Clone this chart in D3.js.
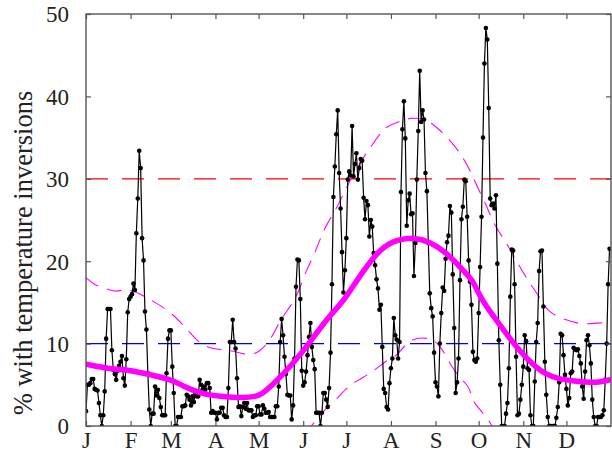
<!DOCTYPE html>
<html>
<head>
<meta charset="utf-8">
<script src="https://cdn.jsdelivr.net/npm/d3@7"></script>
<style>
	html, body { margin: 0; padding: 0; background: #fff; }
</style>
</head>
<body>
<div id="chart"></div>
<script>
document.addEventListener("DOMContentLoaded", init, false);

// month labels sit on the first day of each month
var monthLabels = ['J', 'F', 'M', 'A', 'M', 'J', 'J', 'A', 'S', 'O', 'N', 'D'];
var monthStartDays = [0, 31, 59, 90, 120, 151, 181, 212, 243, 273, 304, 334];
var yTicks = [0, 10, 20, 30, 40, 50];

// daily % of soundings with an inversion (day 0 = 1 Jan)
var dailyInversions = [
	1.8, 5.0, 5.0, 5.2, 5.7, 5.7, 4.5, 4.4, 4.3, 2.8,
	1.3, 0, 1.3, 4.2, 10.6, 14.2, 14.2, 14.2, 9.2, 6.8,
	6.3, 5.6, 6.7, 7.3, 7.8, 8.5, 5.8, 4.9, 8.1, 13.8,
	15.4, 15.7, 16.0, 17.3, 16.5, 23.4, 27.6, 33.4, 31.3, 22.8,
	20.1, 13.9, 11.7, 6.4, 2.0, 0, 1.5, 1.5, 4.8, 3.7,
	4.4, 3.4, 2.3, 1.3, 1.3, 1.3, 6.4, 10.6, 11.6, 11.6,
	7.2, 4.0, 0, 0, 1.1, 1.1, 1.1, 2.4, 2.4, 2.5,
	3.8, 3.6, 3.2, 2.5, 3.6, 2.9, 4.0, 3.6, 3.6, 5.6,
	5.0, 4.4, 4.8, 4.4, 5.2, 5.2, 4.6, 1.6, 1.8, 1.6,
	1.6, 0.8, 1.6, 1.6, 2.2, 2.2, 1.3, 1.1, 1.1, 4.6,
	10.2, 10.2, 12.9, 10.2, 9.4, 5.8, 2.3, 2.4, 1.2, 2.3,
	2.8, 2.1, 2.8, 1.9, 1.9, 1.9, 1.1, 1.3, 1.3, 2.4,
	2.4, 1.4, 1.4, 2.5, 2.1, 1.6, 1.6, 1.7, 1.1, 1.1,
	1.1, 1.1, 2.4, 2.4, 4.8, 10.2, 13.0, 11.0, 8.4, 6.3,
	3.8, 3.7, 3.7, 0.8, 2.5, 8.2, 16.9, 20.2, 20.1, 15.4,
	6.7, 4.9, 5.3, 6.6, 8.6, 10.8, 12.5, 9.6, 8.0, 6.9,
	1.6, 1.6, 1.6, 0, 1.6, 4.0, 4.0, 3.2, 2.3, 4.6,
	8.9, 17.2, 27.8, 31.5, 35.4, 38.3, 30.7, 26.4, 21.1, 16.2,
	18.9, 22.8, 29.9, 30.9, 30.4, 36.4, 30.3, 31.8, 33.1, 29.9,
	31.3, 32.4, 32.2, 27.7, 25.1, 27.3, 26.8, 23.0, 25.0, 24.2,
	21.0, 19.5, 17.8, 16.7, 14.1, 14.7, 9.6, 4.5, 4.0, 2.3,
	2.0, 5.2, 7.0, 8.2, 13.1, 11.0, 10.5, 8.2, 10.2, 28.4,
	36.0, 39.4, 34.9, 24.3, 27.4, 28.2, 25.7, 25.8, 18.2, 22.2,
	29.9, 35.8, 43.1, 36.9, 38.3, 37.2, 30.7, 28.5, 22.2, 16.1,
	14.3, 13.3, 8.9, 5.3, 4.8, 3.6, 10.0, 13.7, 16.8, 16.4,
	20.3, 22.3, 23.1, 26.7, 25.9, 18.4, 11.9, 4.0, 5.3, 8.2,
	17.7, 25.1, 26.6, 29.9, 29.7, 25.4, 20.1, 17.5, 14.7, 9.0,
	8.0, 7.8, 8.2, 13.7, 19.3, 25.4, 35.0, 44.0, 48.3, 46.9,
	38.6, 27.6, 26.8, 27.0, 26.4, 28.0, 19.7, 10.4, 5.0, 0,
	0, 0, 1.5, 2.8, 7.0, 15.7, 21.4, 21.3, 17.2, 8.4,
	1.3, 1.5, 3.2, 5.0, 7.2, 11.0, 10.3, 7.0, 6.8, 1.3,
	0, 0, 5.4, 10.2, 12.5, 18.8, 21.2, 21.3, 14.5, 7.8,
	3.8, 1.1, 0, 0, 0, 0, 0, 1.0, 2.3, 5.3,
	11.2, 11.0, 8.6, 6.2, 4.5, 2.5, 3.4, 6.4, 6.6, 9.5,
	9.3, 9.2, 9.3, 8.5, 7.6, 4.8, 3.3, 6.6, 10.4, 11.0,
	9.8, 7.6, 3.2, 1.1, 0, 0, 1.1, 1.1, 1.1, 1.3,
	1.9, 5.6, 10.0, 17.2, 21.5
];

// smoothed climatology (thick magenta)
var meanDays = [0, 17, 31, 45, 60, 68, 79, 88, 100, 110, 118, 122, 131, 143, 156, 167, 177, 181, 193, 205, 216, 228, 239, 251, 262, 269, 274, 285, 294, 301, 311, 320, 329, 338, 348, 357, 364];
var meanValues = [7.5, 6.9, 6.8, 6.2, 5.6, 4.8, 4.0, 3.7, 3.5, 3.4, 3.6, 3.8, 5.2, 7.4, 10.2, 12.9, 14.8, 15.7, 18.9, 21.6, 22.6, 22.9, 22.4, 21.0, 18.9, 17.7, 15.6, 12.9, 10.8, 9.2, 7.4, 6.2, 5.7, 5.5, 5.3, 5.3, 5.6];

// mean + one standard deviation
var upperDays = [0, 6, 13, 22, 26, 35, 43, 54, 62, 72, 79, 88, 101, 108, 114, 121, 129, 135, 143, 148, 153, 158, 163, 167, 175, 181, 193, 199, 206, 211, 216, 225, 237, 245, 254, 261, 267, 272, 279, 282, 290, 295, 302, 307, 316, 321, 333, 344, 357, 364];
var upperValues = [18.0, 17.1, 16.7, 16.2, 16.7, 16.3, 15.5, 14.4, 13.3, 11.4, 10.0, 9.3, 9.2, 8.8, 8.6, 9.0, 10.6, 12.9, 14.7, 16.3, 18.9, 20.5, 22.8, 24.4, 26.6, 29.0, 32.7, 34.1, 35.9, 36.5, 36.8, 37.5, 37.2, 36.1, 34.5, 32.9, 31.1, 29.0, 26.6, 25.0, 22.8, 21.4, 19.2, 17.7, 15.5, 13.8, 12.9, 12.3, 12.5, 12.6];

// mean - one standard deviation (only shows where above zero)
var lowerDays = [152, 157, 163, 166, 174, 183, 192, 201, 209, 215, 219, 226, 237, 246, 252, 259, 265, 267, 269, 280, 285];
var lowerValues = [-1.0, 0.1, 1.3, 2.0, 3.2, 5.0, 5.8, 6.8, 8.0, 8.4, 9.2, 10.6, 10.8, 10.0, 7.8, 6.0, 5.0, 4.4, 2.8, 0.9, -1.0];

var referenceLevels = [10, 30];
var referenceColors = ['#0000e0', '#ff0000'];

var fontFamily = 'Liberation Serif';

function zipPoints(days, values) {
	var points = [];
	for (var i = 0; i < days.length; ++i) {
		points.push({'day': days[i], 'value': values[i]});
	}
	return points;
}

function init() {
	var width = 612, height = 459;
	var left = 86, right = 611, top = 14, bottom = 426;

	var svg = d3.select('#chart').append('svg')
		.attr('width', width)
		.attr('height', height)
		.attr('font-family', fontFamily);

	var x = d3.scaleLinear().domain([0, 365]).range([left, right]);
	var y = d3.scaleLinear().domain([0, 50]).range([bottom, top]);

	svg.append('clipPath').attr('id', 'plot-clip')
		.append('rect')
		.attr('x', left).attr('y', top)
		.attr('width', right - left).attr('height', bottom - top);

	var plot = svg.append('g').attr('clip-path', 'url(#plot-clip)');

	// reference levels
	plot.selectAll('line.ref')
		.data(referenceLevels)
		.enter().append('line')
		.attr('class', 'ref')
		.attr('x1', left).attr('x2', right)
		.attr('y1', function(d) { return y(d); })
		.attr('y2', function(d) { return y(d); })
		.attr('stroke', function(d, i) { return referenceColors[i]; })
		.attr('stroke-width', 1.2)
		.attr('stroke-dasharray', '22,14');

	var line = d3.line()
		.x(function(d) { return x(d.day); })
		.y(function(d) { return y(d.value); });

	var smoothLine = d3.line()
		.curve(d3.curveBasis)
		.x(function(d) { return x(d.day); })
		.y(function(d) { return y(d.value); });

	// +/- one sd
	[zipPoints(upperDays, upperValues), zipPoints(lowerDays, lowerValues)].forEach(function(points) {
		plot.append('path')
			.datum(points)
			.attr('d', smoothLine)
			.attr('fill', 'none')
			.attr('stroke', '#ff00ff')
			.attr('stroke-width', 1.1)
			.attr('stroke-dasharray', '15,9');
	});

	// daily series
	var daily = dailyInversions.map(function(v, i) { return {'day': i, 'value': v}; });

	plot.append('path')
		.datum(daily)
		.attr('d', line)
		.attr('fill', 'none')
		.attr('stroke', '#000')
		.attr('stroke-width', 1.2);

	plot.selectAll('circle.day')
		.data(daily)
		.enter().append('circle')
		.attr('class', 'day')
		.attr('cx', function(d) { return x(d.day); })
		.attr('cy', function(d) { return y(d.value); })
		.attr('r', 2.3)
		.attr('fill', '#000');

	// climatological mean
	plot.append('path')
		.datum(zipPoints(meanDays, meanValues))
		.attr('d', smoothLine)
		.attr('fill', 'none')
		.attr('stroke', '#ff00ff')
		.attr('stroke-width', 5.5)
		.attr('stroke-linecap', 'round');

	// frame and inward ticks
	var axisColor = '#555';
	svg.append('rect')
		.attr('x', left).attr('y', top)
		.attr('width', right - left).attr('height', bottom - top)
		.attr('fill', 'none')
		.attr('stroke', axisColor)
		.attr('stroke-width', 1.4);

	var xAxisBottom = d3.axisBottom(x).tickValues(monthStartDays).tickSizeInner(-5).tickSizeOuter(0)
		.tickFormat(function(d, i) { return monthLabels[i]; });
	var xAxisTop = d3.axisTop(x).tickValues(monthStartDays).tickSizeInner(-5).tickSizeOuter(0).tickFormat('');
	var yAxisLeft = d3.axisLeft(y).tickValues(yTicks).tickSizeInner(-5).tickSizeOuter(0).tickFormat(d3.format('d'));
	var yAxisRight = d3.axisRight(y).tickValues(yTicks).tickSizeInner(-5).tickSizeOuter(0).tickFormat('');

	var gb = svg.append('g').attr('transform', 'translate(0,' + bottom + ')').call(xAxisBottom);
	var gt = svg.append('g').attr('transform', 'translate(0,' + top + ')').call(xAxisTop);
	var gl = svg.append('g').attr('transform', 'translate(' + left + ',0)').call(yAxisLeft);
	var gr = svg.append('g').attr('transform', 'translate(' + right + ',0)').call(yAxisRight);

	[gb, gt, gl, gr].forEach(function(g) {
		g.attr('font-family', fontFamily).attr('font-size', 23);
		g.select('.domain').remove();
		g.selectAll('.tick line').attr('stroke', axisColor).attr('stroke-width', 1.2);
		g.selectAll('.tick text').attr('fill', '#222');
	});

	gb.selectAll('.tick text').attr('y', 22).attr('dy', 0);
	gl.selectAll('.tick text').attr('x', -17).attr('dy', '0.34em');

	svg.append('text')
		.attr('transform', 'translate(32,253) rotate(-90)')
		.attr('text-anchor', 'middle')
		.attr('font-size', 26.5)
		.attr('fill', '#222')
		.text('% with temperature inversions');
}
</script>
</body>
</html>
